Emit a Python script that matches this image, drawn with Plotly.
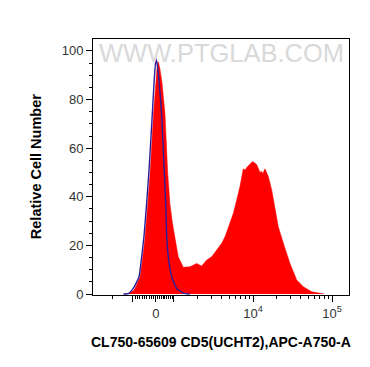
import numpy as np
import plotly.graph_objects as go

# ---- data (x in display/channel units of the biexponential axis) ----
sample_x = [2.40, 2.418, 2.485, 2.506, 2.570, 2.600, 2.633, 2.665, 2.696, 2.741, 2.772, 2.790,
            2.801, 2.820, 2.848, 2.886, 2.920, 2.949, 2.981, 3.013, 3.054, 3.118, 3.203, 3.287,
            3.351, 3.414, 3.477, 3.541, 3.604, 3.646, 3.709, 3.751, 3.794, 3.835, 3.877, 3.900,
            3.920, 3.962, 3.990, 4.020, 4.047, 4.070, 4.089, 4.110, 4.123, 4.152, 4.194, 4.237,
            4.278, 4.320, 4.384, 4.468, 4.553, 4.637, 4.743, 4.848, 4.90]
sample_y = [0, 0.3, 1.2, 2.3, 7, 14, 23, 36, 49, 74, 90, 95,
            95.5, 93, 87, 74, 50, 37, 29, 23.6, 15.3, 11, 11.2, 12.6,
            11.5, 14, 15.3, 18.1, 20.9, 23.6, 29.1, 33.2, 38.7, 44.2, 51.5, 51,
            52, 53.5, 54.4, 54.0, 53.2, 51.5, 50, 50.5, 49.5, 51.5, 48.3, 42.8,
            35.9, 27.7, 20.9, 12.6, 5.8, 3.0, 0.9, 0.2, 0]

control_x = [2.36, 2.43, 2.485, 2.557, 2.591, 2.620, 2.654, 2.684, 2.725, 2.750, 2.772, 2.790,
             2.810, 2.844, 2.877, 2.895, 2.908, 2.928, 2.971, 3.034, 3.118, 3.20]
control_y = [0, 0.3, 2.3, 7.1, 15.3, 23.6, 37.4, 51, 73.7, 88, 97, 94,
             88, 73.7, 50, 37.4, 23.6, 15.3, 7.1, 2.3, 0.4, 0]

major_tick_values = [-1000, 0, 1000, 10000, 100000]
major_tick_labels = ["", "0", "", "10<sup>4</sup>", "10<sup>5</sup>"]
y_tick_values = [0, 20, 40, 60, 80, 100]

x_title = "CL750-65609 CD5(UCHT2),APC-A750-A"
y_title = "Relative Cell Number"
watermark = "WWW.PTGLAB.COM"


def disp(v):
    """Map a fluorescence value onto the display axis (biexponential-like)."""
    zero = 2.772
    if v >= 1000:
        return np.log10(v)
    if v >= 0:
        return zero + v / 1000 * (3 - zero)
    if v >= -1000:
        return zero + v / 1000 * 0.291
    return zero - 0.291 - (np.log10(-v) - 3) * 0.253


minor_vals = []
for k in range(1, 10):
    minor_vals.append(disp(k * 100))
    minor_vals.append(disp(-k * 100))
for dec in (1000, 10000):
    for k in range(2, 10):
        minor_vals.append(disp(k * dec))
minor_vals.append(disp(-10000))

fig = go.Figure()
fig.add_trace(go.Scatter(x=sample_x, y=sample_y, mode="lines", fill="tozeroy",
                         line=dict(color="#ff0000", width=0.5), fillcolor="#ff0000",
                         hoverinfo="skip", showlegend=False))
fig.add_trace(go.Scatter(x=control_x, y=control_y, mode="lines",
                         line=dict(color="#2a1f9a", width=1.4, shape="spline", smoothing=0.5),
                         hoverinfo="skip", showlegend=False))

font_family = "Liberation Sans, Arial, sans-serif"

fig.add_annotation(text=watermark, xref="paper", yref="paper", x=0.5, y=0.945,
                   xanchor="center", yanchor="middle", showarrow=False,
                   font=dict(family=font_family, size=25.5, color="#d9d9d9"))
fig.add_annotation(text="<b>" + x_title + "</b>", xref="paper", yref="paper",
                   x=0.5, y=-0.184, xanchor="center", yanchor="middle", showarrow=False,
                   font=dict(family=font_family, size=14, color="black"))
fig.add_annotation(text="<b>" + y_title + "</b>", xref="paper", yref="paper",
                   x=-0.222, y=0.5, xanchor="center", yanchor="middle", showarrow=False,
                   textangle=-90,
                   font=dict(family=font_family, size=14.5, color="black"))

# page body has an 8px default margin, so the figure is offset accordingly
fig.update_layout(
    width=354, height=351,
    margin=dict(l=85, r=13, t=31, b=64, autoexpand=False),
    paper_bgcolor="white", plot_bgcolor="white",
    font=dict(family=font_family, size=12, color="#333333"),
    xaxis=dict(
        range=[1.975, 5.215], showgrid=False, zeroline=False, automargin=False,
        showline=True, linecolor="black", linewidth=1, mirror=True,
        tickmode="array", tickvals=[disp(v) for v in major_tick_values],
        ticktext=major_tick_labels, ticks="outside", ticklen=6, tickcolor="black",
        tickfont=dict(size=13, color="#333333"),
        minor=dict(tickmode="array", tickvals=minor_vals, ticks="outside",
                   ticklen=3, tickcolor="black"),
    ),
    yaxis=dict(
        range=[-0.4, 104.9], showgrid=False, zeroline=False, automargin=False,
        showline=True, linecolor="black", linewidth=1, mirror=True,
        tickmode="array", tickvals=y_tick_values, ticks="outside", ticklen=6,
        tickcolor="black", tickfont=dict(size=13, color="#333333"),
        minor=dict(dtick=5, ticks="outside", ticklen=3, tickcolor="black"),
    ),
)

fig.write_html("out.html")
